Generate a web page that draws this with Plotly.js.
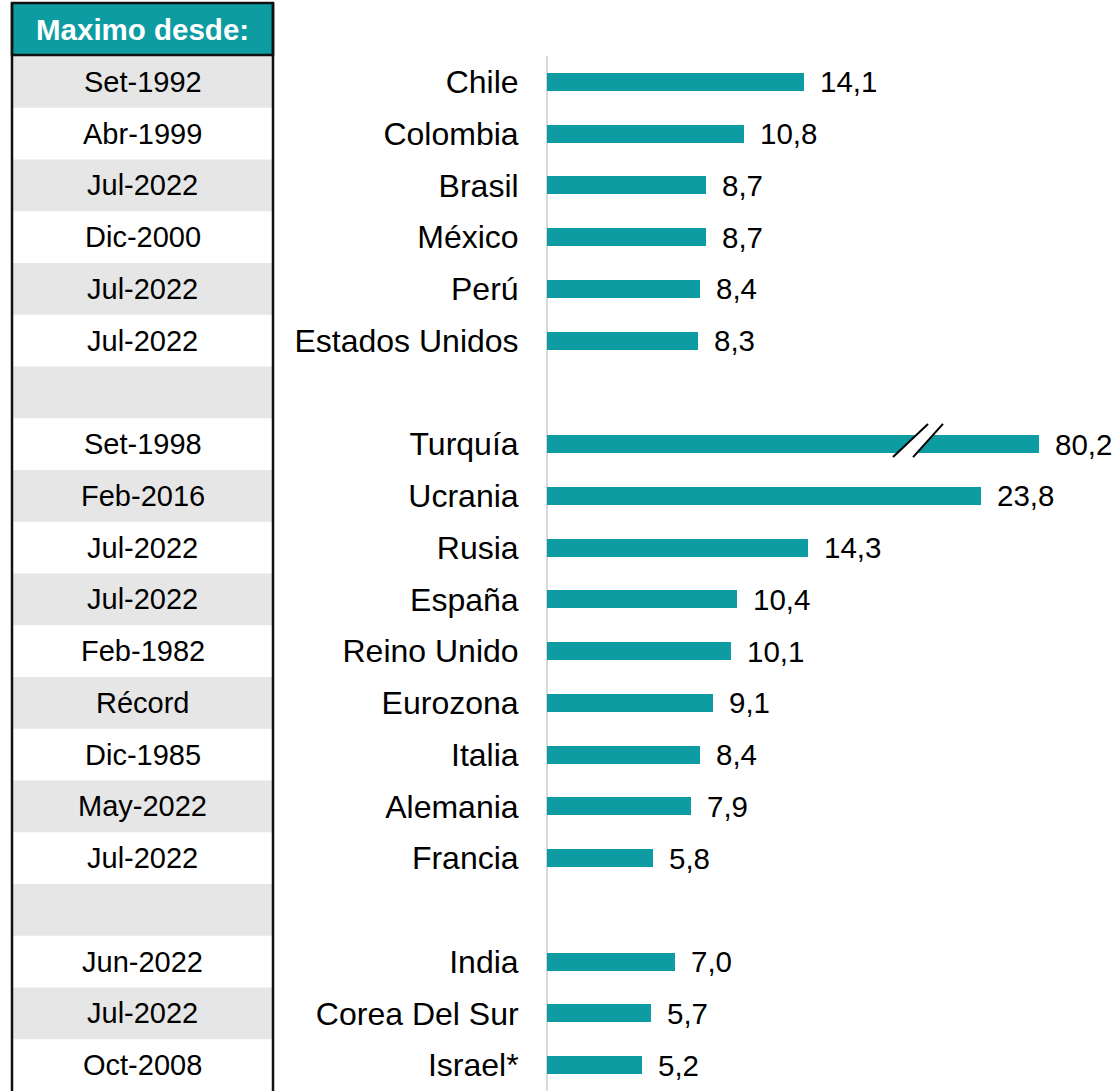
<!DOCTYPE html>
<html><head><meta charset="utf-8">
<script src="https://cdn.plot.ly/plotly-3.0.1.min.js"></script>
<style>body{margin:0;background:#fff}#c{width:1119px;height:1091px}</style>
</head><body><div id="c"></div>
<script>
// ---- data ----
const countries = ["Chile","Colombia","Brasil","México","Perú","Estados Unidos"," ",
  "Turquía","Ucrania","Rusia","España","Reino Unido","Eurozona","Italia","Alemania","Francia","  ",
  "India","Corea Del Sur","Israel*"];
const values = [14.1,10.8,8.7,8.7,8.4,8.3,null,80.2,23.8,14.3,10.4,10.1,9.1,8.4,7.9,5.8,null,7.0,5.7,5.2];
const maxDesde = ["Set-1992","Abr-1999","Jul-2022","Dic-2000","Jul-2022","Jul-2022","",
  "Set-1998","Feb-2016","Jul-2022","Jul-2022","Feb-1982","Récord","Dic-1985","May-2022","Jul-2022","",
  "Jun-2022","Jul-2022","Oct-2008"];
const headerText = "Maximo desde:";

// ---- styling / layout parameters ----
const W = 1119, H = 1091;
const TEAL = "#0e9ca3";
const FONT = "Arial";
const breakCap = 27;     // truncated display length for the broken bar
const breakAt = 20.3;    // where the break mark sits (axis units)
const plotLeft = 547, topPx = 56;
const tblL = 12/W, tblR = 273/W;
const n = countries.length;

const shown = values.map(v => v == null ? null : Math.min(v, breakCap));
const fmt = v => v.toFixed(1).replace(".", ",");

const trace = {
  type: "bar", orientation: "h",
  y: countries, x: shown,
  marker: {color: TEAL, line: {width: 0}},
  width: 0.35, hoverinfo: "skip"
};

const shapes = [];
const annotations = [];
for (let i = 0; i < n; i++) {
  if (i % 2 === 0) shapes.push({type:"rect", xref:"paper", yref:"y", x0:tblL, x1:tblR, y0:i-0.5, y1:i+0.5,
    fillcolor:"#e6e6e6", line:{width:0}, layer:"below"});
  if (maxDesde[i]) annotations.push({xref:"paper", yref:"y", x:(tblL+tblR)/2, y:i, text:maxDesde[i],
    showarrow:false, xanchor:"center", yanchor:"middle", font:{family:FONT, size:29, color:"#000"}});
}
const hy0 = 1 - 55/H, hy1 = 1 - 3/H;
shapes.push({type:"rect", xref:"paper", yref:"paper", x0:tblL, x1:tblR, y0:hy0, y1:hy1,
  fillcolor:TEAL, line:{color:"#111", width:2.5}});
annotations.push({xref:"paper", yref:"paper", x:(tblL+tblR)/2, y:(hy0+hy1)/2, text:"<b>"+headerText+"</b>",
  showarrow:false, xanchor:"center", yanchor:"middle", font:{family:FONT, size:29.5, color:"#fff"}});
[tblL, tblR].forEach(x => shapes.push({type:"line", xref:"paper", yref:"paper", x0:x, x1:x, y0:0, y1:hy1,
  line:{color:"#111", width:2.5}}));

values.forEach((v, i) => {
  if (v == null) return;
  annotations.push({xref:"x", yref:"y", x:shown[i], y:i, text:fmt(v), showarrow:false,
    xanchor:"left", yanchor:"middle", xshift:14, font:{family:FONT, size:29.5, color:"#000"}});
});

const bi = values.findIndex(v => v != null && v > breakCap);
if (bi >= 0) {
  const yb = bi + 0.25, yt = bi - 0.39;
  const a0 = breakAt - 1.33, a1 = breakAt + 0.59, b0 = breakAt - 0.23, b1 = breakAt + 1.41;
  shapes.push({type:"path", xref:"x", yref:"y",
    path:`M ${a0},${yb} L ${a1},${yt} L ${b1},${yt} L ${b0},${yb} Z`, fillcolor:"#fff", line:{width:0}});
  shapes.push({type:"line", xref:"x", yref:"y", x0:a0, y0:yb, x1:a1, y1:yt, line:{color:"#000", width:2}});
  shapes.push({type:"line", xref:"x", yref:"y", x0:b0, y0:yb, x1:b1, y1:yt, line:{color:"#000", width:2}});
}

const layout = {
  width: W, height: H,
  margin: {l:0, r:0, t:0, b:0},
  paper_bgcolor: "#fff", plot_bgcolor: "#fff",
  showlegend: false,
  xaxis: {domain:[plotLeft/W, 1], range:[0, (W-plotLeft)/18.24], showgrid:false, showticklabels:false,
    zeroline:true, zerolinecolor:"#d9d9d9", zerolinewidth:2, fixedrange:true},
  yaxis: {domain:[0, 1 - topPx/H], type:"category", categoryorder:"array", categoryarray:countries,
    range:[n-0.5, -0.5], showgrid:false, zeroline:false, ticks:"outside", ticklen:21,
    tickcolor:"rgba(0,0,0,0)", tickfont:{family:FONT, size:32, color:"#000"}, fixedrange:true},
  shapes: shapes,
  annotations: annotations,
  bargap: 0
};

Plotly.newPlot("c", [trace], layout, {staticPlot:true, displayModeBar:false});
</script>
</body></html>
